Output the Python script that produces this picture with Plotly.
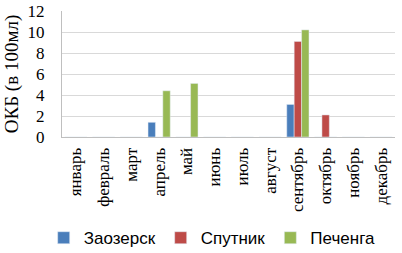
import plotly.graph_objects as go

months = ["январь", "февраль", "март", "апрель", "май", "июнь", "июль",
          "август", "сентябрь", "октябрь", "ноябрь", "декабрь"]
zaozersk = [0, 0, 0, 1.4, 0, 0, 0, 0, 3.1, 0, 0, 0]
sputnik = [0, 0, 0, 0, 0, 0, 0, 0, 9.1, 2.1, 0, 0]
pechenga = [0, 0, 0, 4.4, 5.1, 0, 0, 0, 10.2, 0, 0, 0]
y_ticks = [0, 2, 4, 6, 8, 10, 12]

fig = go.Figure()
fig.add_trace(go.Bar(x=months, y=zaozersk, name="Заозерск", marker_color="#4a7ebb"))
fig.add_trace(go.Bar(x=months, y=sputnik, name="Спутник", marker_color="#be4b48"))
fig.add_trace(go.Bar(x=months, y=pechenga, name="Печенга", marker_color="#98b954"))

fig.update_layout(
    width=402, height=253,
    margin=dict(l=62, r=7, t=11, b=116, autoexpand=False),
    paper_bgcolor="white", plot_bgcolor="white",
    barmode="group", bargap=0.2, bargroupgap=0,
    font=dict(family="Liberation Serif", size=16, color="black"),
    legend=dict(orientation="h", x=-0.055, xanchor="left", y=-0.66, yanchor="top",
                font=dict(family="Liberation Sans", size=17),
                itemwidth=30, tracegroupgap=0),
    yaxis=dict(range=[0, 12], tickvals=y_ticks, showgrid=True, gridcolor="#d9d9d9",
               showline=True, linecolor="#bfbfbf", ticks="", zeroline=False,
               ticklabelstandoff=13,
               title=dict(text="ОКБ (в 100мл)", font=dict(size=19), standoff=3),
               tickfont=dict(size=17)),
    xaxis=dict(tickangle=-90, showline=True, linecolor="#bfbfbf", ticks="",
               ticklabelstandoff=3, tickfont=dict(size=17)),
)
fig.write_html("out.html", config={"displayModeBar": False},
               post_script="document.body.style.margin='0';")
